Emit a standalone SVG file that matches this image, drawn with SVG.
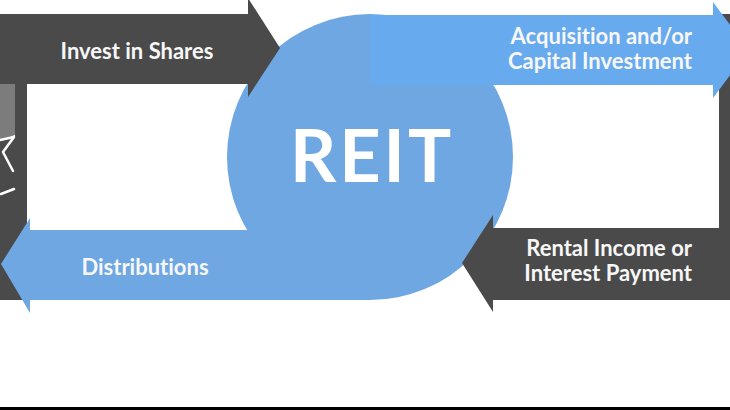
<svg xmlns="http://www.w3.org/2000/svg" width="730" height="410" viewBox="0 0 730 410">
<defs>
<style>
.dark{fill:#4a4a4a}
.blue{fill:#6ea7e2}
.blue2{fill:#68aaee}
.lbl{font-family:Lato,"Open Sans","Liberation Sans",sans-serif;font-weight:bold;font-size:22px;fill:#f7f7f7;font-variant-ligatures:none}
.big{font-family:Lato,"Open Sans","Liberation Sans",sans-serif;font-weight:bold;font-size:72px;fill:#ffffff;letter-spacing:3px}
.icon{stroke:#ffffff;stroke-width:2.5;fill:none;stroke-linecap:round;stroke-linejoin:round}
</style>
<clipPath id="panel"><rect x="0" y="25" width="15" height="120"/></clipPath>
</defs>
<rect x="0" y="0" width="730" height="410" fill="#ffffff"/>
<g id="investors">
<rect class="dark" x="0" y="14" width="27" height="286"/>
<rect x="0" y="25" width="15" height="112" fill="#ffffff"/>
<circle cx="-6" cy="96" r="44" fill="#7c7c7c" clip-path="url(#panel)"/>
<path class="icon" d="M0 140 L14 137 L3 152 L13 171 M1 194 L14 189"/>
</g>
<g id="properties">
<rect class="dark" x="719" y="14" width="11" height="286"/>
</g>
<g id="reit">
<circle class="blue" cx="370" cy="157" r="143"/>
<text class="big" x="372" y="182" text-anchor="middle">REIT</text>
</g>
<g id="connectors">
<g id="invest">
<path class="dark" d="M0 14 H248 V-2 L280 48 L248 97 V84 H0 Z"/>
<text class="lbl" x="137" y="59" text-anchor="middle">Invest in Shares</text>
</g>
<g id="acquisition">
<path class="blue2" d="M370 15 H713 V2 L749 50 L713 98 V85 H370 Z"/>
<text class="lbl" x="692" y="44" text-anchor="end">Acquisition and/or</text>
<text class="lbl" x="692" y="69" text-anchor="end">Capital Investment</text>
</g>
<g id="rental">
<path class="dark" d="M730 228 H493 V215 L462 263 L493 312 V300 H730 Z"/>
<text class="lbl" x="692" y="256" text-anchor="end">Rental Income or</text>
<text class="lbl" x="692" y="281" text-anchor="end">Interest Payment</text>
</g>
<g id="distributions">
<path class="blue" d="M370 230 H30 V218 L1 264 L30 313 V300 H370 Z"/>
<text class="lbl" x="145" y="275" text-anchor="middle">Distributions</text>
</g>
</g>
<rect x="0" y="407" width="730" height="3" fill="#000000"/>
</svg>
